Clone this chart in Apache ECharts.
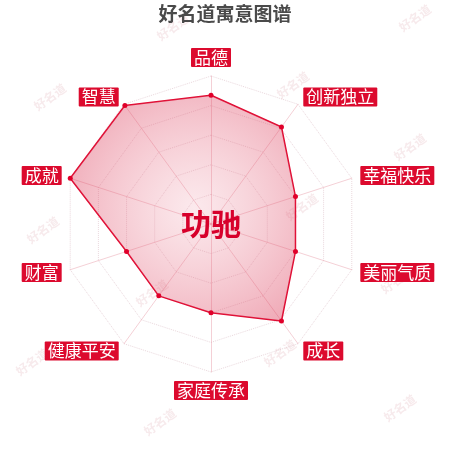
<!DOCTYPE html>
<html>
<head>
<meta charset="utf-8">
<script src="https://cdn.jsdelivr.net/npm/echarts@6/dist/echarts.min.js"></script>
<style>
html, body { margin: 0; padding: 0; background: #fff; }
#chart { width: 450px; height: 450px; }
</style>
</head>
<body>
<div id="chart"></div>
<script>
var myChart = echarts.init(document.getElementById('chart'));

// 指标（逆时针，从顶部开始）
var indicators = ['品德', '智慧', '成就', '财富', '健康平安', '家庭传承', '成长', '美丽气质', '幸福快乐', '创新独立'];
var scores = [87, 99, 100, 60, 60, 60, 81, 60, 60, 81];
var maxScore = 100;
var titleText = '好名道寓意图谱';
var nameText = '功驰';
var markText = '好名道';
// 水印位置
var markSpots = [
    [173, 27], [415, 18], [50, 97], [293, 85], [410, 147], [43, 230],
    [302, 207], [397, 280], [152, 293], [32, 362], [280, 353], [160, 422], [400, 408]
];

var marks = markSpots.map(function (p) {
    return {
        type: 'text',
        x: p[0],
        y: p[1],
        rotation: Math.PI / 5,
        z: -1,
        style: {
            text: markText,
            fill: 'rgba(215,150,160,0.2)',
            font: 'bold 12px "Noto Sans CJK SC"',
            align: 'center',
            verticalAlign: 'middle'
        }
    };
});

var option = {
    animation: false,
    backgroundColor: '#fff',
    title: {
        text: titleText,
        left: 'center',
        top: -1,
        textStyle: {
            color: '#4a4a4a',
            fontSize: 19,
            fontWeight: 'bold',
            fontFamily: 'Noto Sans CJK SC'
        }
    },
    graphic: marks.concat([{
        type: 'text',
        x: 211,
        y: 224,
        z: 10,
        style: {
            text: nameText,
            fill: '#d7002b',
            font: 'bold 30px "Noto Sans CJK SC"',
            align: 'center',
            verticalAlign: 'middle'
        }
    }]),
    radar: {
        center: [211, 224],
        radius: 148,
        startAngle: 90,
        splitNumber: 5,
        shape: 'polygon',
        nameGap: 9,
        indicator: indicators.map(function (n) {
            return { name: n, max: maxScore };
        }),
        axisName: {
            color: '#fff',
            backgroundColor: '#dc0a2e',
            fontSize: 17,
            fontFamily: 'Noto Sans CJK SC',
            padding: [1, 3],
            borderRadius: 1
        },
        axisLine: {
            lineStyle: { color: 'rgba(230,150,165,0.45)' }
        },
        splitLine: {
            lineStyle: { color: 'rgba(220,190,198,0.6)', type: 'dotted' }
        },
        splitArea: { show: false }
    },
    series: [{
        type: 'radar',
        symbol: 'circle',
        symbolSize: 5,
        data: [{
            value: scores,
            name: nameText
        }],
        itemStyle: { color: '#e0002a' },
        lineStyle: { color: '#e0062e', width: 1.5 },
        areaStyle: {
            color: new echarts.graphic.RadialGradient(0.55, 0.5, 0.6, [{
                offset: 0,
                color: 'rgba(235,130,150,0.25)'
            }, {
                offset: 1,
                color: 'rgba(220,60,90,0.6)'
            }])
        }
    }]
};

myChart.setOption(option);
</script>
</body>
</html>
